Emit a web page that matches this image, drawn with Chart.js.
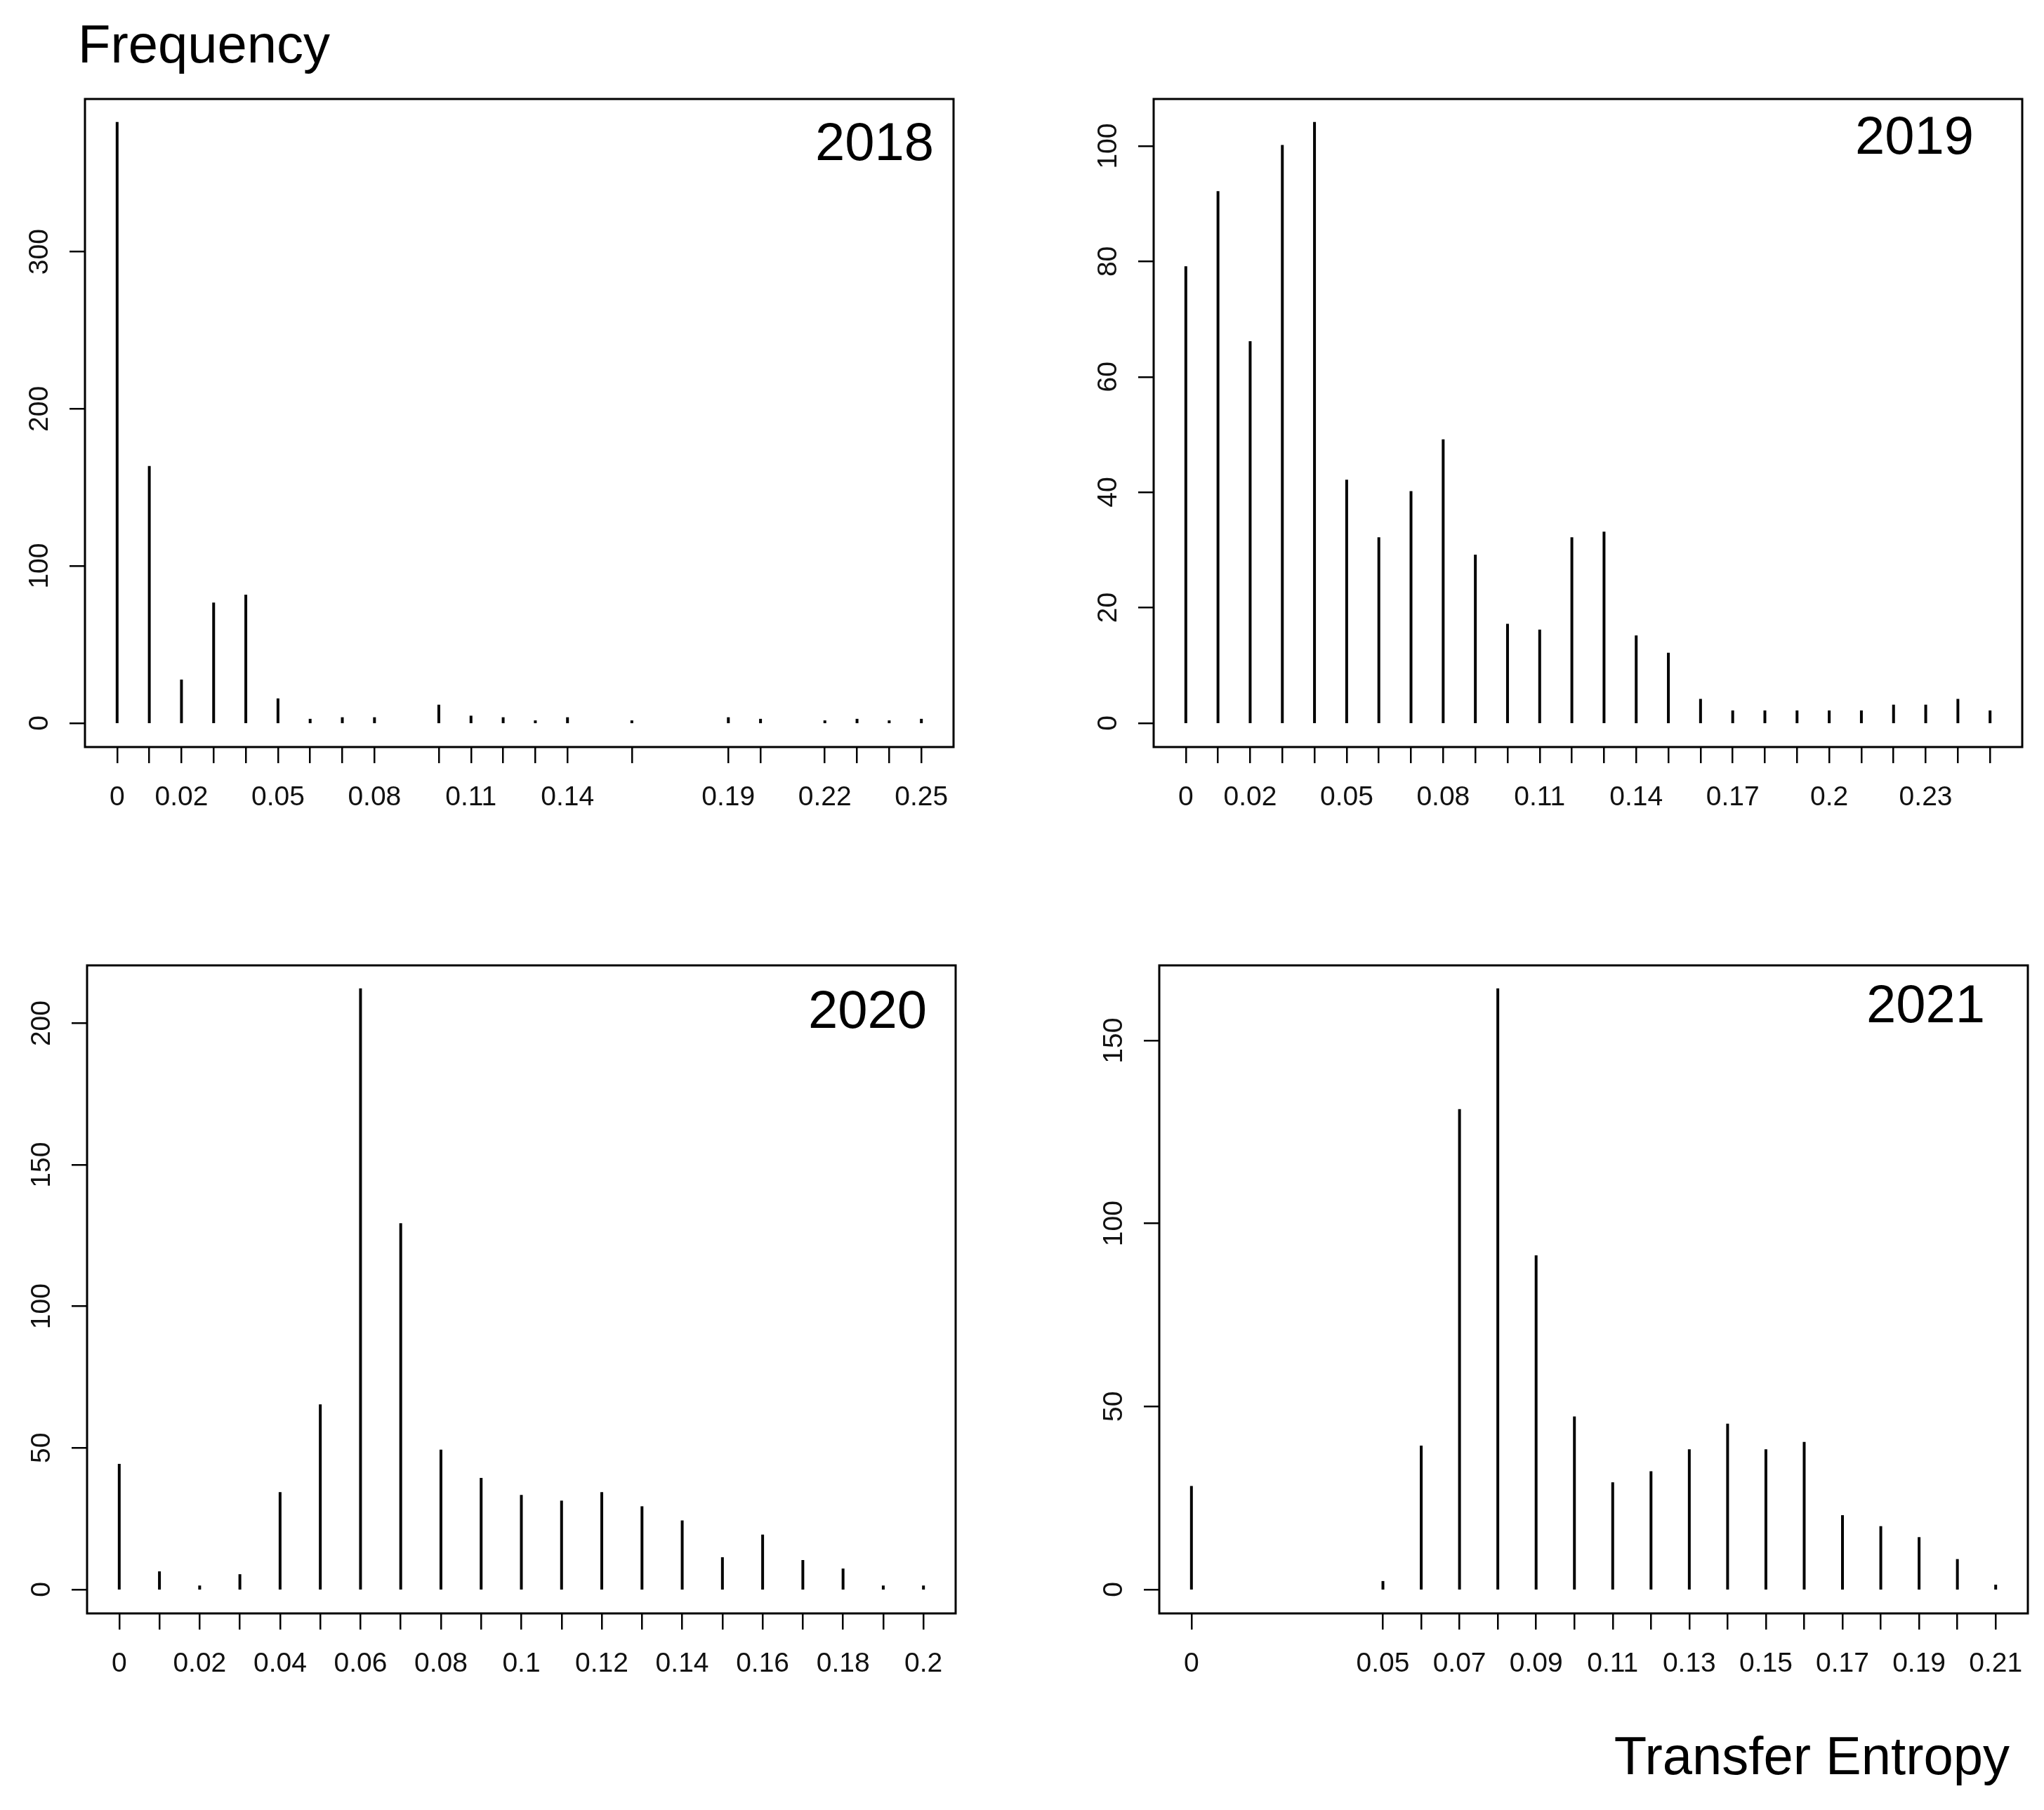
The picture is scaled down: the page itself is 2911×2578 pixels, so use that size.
<!DOCTYPE html>
<html>
<head>
<meta charset="utf-8">
<script src="https://cdn.jsdelivr.net/npm/chart.js@4.4.1/dist/chart.umd.min.js"></script>
<style>
  html, body { margin: 0; padding: 0; background: #fff; }
  #page { position: relative; width: 2911px; height: 2578px; background: #fff; overflow: hidden; }
  .panel { position: absolute; }
  .txt { position: absolute; font-family: "Liberation Sans", Arial, sans-serif; font-size: 76px; line-height: 76px; color: #000; white-space: nowrap; }
</style>
</head>
<body>
<div id="page">
  <div class="txt" style="left:111px; top:25px;">Frequency</div>
  <div class="txt" style="right:49px; top:2463px;">Transfer Entropy</div>
  <div class="panel" id="p2018"><canvas id="c2018"></canvas></div>
  <div class="panel" id="p2019"><canvas id="c2019"></canvas></div>
  <div class="panel" id="p2020"><canvas id="c2020"></canvas></div>
  <div class="panel" id="p2021"><canvas id="c2021"></canvas></div>
</div>
<script>
// --- datos: valores de transfer entropy (x) y frecuencias (n) por año ---
const x2018   = [0, 0.01, 0.02, 0.03, 0.04, 0.05, 0.06, 0.07, 0.08, 0.10, 0.11, 0.12, 0.13, 0.14, 0.16, 0.19, 0.20, 0.22, 0.23, 0.24, 0.25];
const n2018   = [382, 163, 27, 76, 81, 15, 2, 3, 3, 11, 4, 3, 1, 3, 1, 3, 2, 1, 2, 1, 2];
const lab2018 = ['0', '0.02', '0.05', '0.08', '0.11', '0.14', '0.19', '0.22', '0.25'];
const y2018   = [0, 100, 200, 300];

const x2019   = [0, 0.01, 0.02, 0.03, 0.04, 0.05, 0.06, 0.07, 0.08, 0.09, 0.10, 0.11, 0.12, 0.13, 0.14, 0.15, 0.16, 0.17, 0.18, 0.19, 0.20, 0.21, 0.22, 0.23, 0.24, 0.25];
const n2019   = [79, 92, 66, 100, 104, 42, 32, 40, 49, 29, 17, 16, 32, 33, 15, 12, 4, 2, 2, 2, 2, 2, 3, 3, 4, 2];
const lab2019 = ['0', '0.02', '0.05', '0.08', '0.11', '0.14', '0.17', '0.2', '0.23'];
const y2019   = [0, 20, 40, 60, 80, 100];

const x2020   = [0, 0.01, 0.02, 0.03, 0.04, 0.05, 0.06, 0.07, 0.08, 0.09, 0.10, 0.11, 0.12, 0.13, 0.14, 0.15, 0.16, 0.17, 0.18, 0.19, 0.20];
const n2020   = [44, 6, 1, 5, 34, 65, 212, 129, 49, 39, 33, 31, 34, 29, 24, 11, 19, 10, 7, 1, 1];
const lab2020 = ['0', '0.02', '0.04', '0.06', '0.08', '0.1', '0.12', '0.14', '0.16', '0.18', '0.2'];
const y2020   = [0, 50, 100, 150, 200];

const x2021   = [0, 0.05, 0.06, 0.07, 0.08, 0.09, 0.10, 0.11, 0.12, 0.13, 0.14, 0.15, 0.16, 0.17, 0.18, 0.19, 0.20, 0.21];
const n2021   = [28, 2, 39, 131, 164, 91, 47, 29, 32, 38, 45, 38, 40, 20, 17, 14, 8, 1];
const lab2021 = ['0', '0.05', '0.07', '0.09', '0.11', '0.13', '0.15', '0.17', '0.19', '0.21'];
const y2021   = [0, 50, 100, 150];

// --- layout de los cuatro paneles (caja del área de trazado) ---
const BOX_W  = 1237;
const BOX_H  = 923;
const AXIS_Y = 130;
const AXIS_X = 110;
const PAD    = 6;
const FONT   = '"Liberation Sans", Arial, sans-serif';

const paneles = [
  { anio: '2018', left: 121,  top: 141,  xs: x2018, ns: n2018, labs: lab2018, yt: y2018, dx: 28, dy: 66 },
  { anio: '2019', left: 1643, top: 141,  xs: x2019, ns: n2019, labs: lab2019, yt: y2019, dx: 69, dy: 57 },
  { anio: '2020', left: 124,  top: 1375, xs: x2020, ns: n2020, labs: lab2020, yt: y2020, dx: 41, dy: 68 },
  { anio: '2021', left: 1651, top: 1375, xs: x2021, ns: n2021, labs: lab2021, yt: y2021, dx: 61, dy: 60 }
];

const marcoPlugin = {
  id: 'marco',
  afterDraw(chart, args, opts) {
    const { ctx, chartArea: a } = chart;
    ctx.save();
    ctx.strokeStyle = '#000';
    ctx.lineWidth = 3;
    ctx.strokeRect(a.left, a.top, a.right - a.left, a.bottom - a.top);

    // etiquetas del eje y, giradas como en R
    const sy = chart.scales.y;
    ctx.fillStyle = '#111';
    ctx.font = '39px ' + FONT;
    ctx.textAlign = 'center';
    ctx.textBaseline = 'middle';
    sy.ticks.forEach(t => {
      const py = sy.getPixelForValue(t.value);
      ctx.save();
      ctx.translate(a.left - 64, py);
      ctx.rotate(-Math.PI / 2);
      ctx.fillText(String(t.value), 0, 0);
      ctx.restore();
    });

    // año arriba a la derecha
    ctx.fillStyle = '#000';
    ctx.font = '76px ' + FONT;
    ctx.textAlign = 'right';
    ctx.textBaseline = 'middle';
    ctx.fillText(opts.anio, a.right - opts.dx, a.top + opts.dy);
    ctx.restore();
  }
};

function crearPanel(p) {
  const div = document.getElementById('p' + p.anio);
  div.style.left   = (p.left - AXIS_Y) + 'px';
  div.style.top    = (p.top - PAD) + 'px';
  div.style.width  = (AXIS_Y + BOX_W + PAD) + 'px';
  div.style.height = (PAD + BOX_H + AXIS_X) + 'px';

  const xmin = p.xs[0], xmax = p.xs[p.xs.length - 1];
  const rx   = xmax - xmin;
  const ymax = Math.max(...p.ns);

  new Chart(document.getElementById('c' + p.anio), {
    type: 'bar',
    data: {
      datasets: [{
        data: p.xs.map((x, i) => ({ x: x, y: p.ns[i] })),
        backgroundColor: '#000',
        borderWidth: 0,
        barThickness: 1,
        inflateAmount: 1.5
      }]
    },
    options: {
      responsive: true,
      maintainAspectRatio: false,
      animation: false,
      devicePixelRatio: 1,
      layout: { padding: { top: PAD, right: PAD, left: 0, bottom: 0 } },
      plugins: {
        legend: { display: false },
        tooltip: { enabled: false },
        marco: { anio: p.anio, dx: p.dx, dy: p.dy }
      },
      scales: {
        x: {
          type: 'linear',
          offset: false,
          min: xmin - 0.04 * rx,
          max: xmax + 0.04 * rx,
          afterBuildTicks: s => { s.ticks = p.xs.map(v => ({ value: v })); },
          afterFit: s => { s.height = AXIS_X; s.paddingLeft = 0; s.paddingRight = 0; },
          grid: { offset: false, drawOnChartArea: false, drawTicks: true, tickLength: 23, color: '#000', lineWidth: 2.5 },
          border: { display: false },
          ticks: {
            autoSkip: false,
            maxRotation: 0,
            minRotation: 0,
            padding: 26,
            color: '#111',
            font: { family: FONT, size: 39 },
            callback: v => {
              const l = p.labs.find(s => Math.abs(parseFloat(s) - v) < 1e-9);
              return l === undefined ? '' : l;
            }
          }
        },
        y: {
          min: -0.04 * ymax,
          max: 1.04 * ymax,
          afterBuildTicks: s => { s.ticks = p.yt.map(v => ({ value: v })); },
          afterFit: s => { s.width = AXIS_Y; s.paddingTop = 0; s.paddingBottom = 0; },
          grid: { drawOnChartArea: false, drawTicks: true, tickLength: 22, color: '#000', lineWidth: 2.5 },
          border: { display: false },
          ticks: { display: false }
        }
      }
    },
    plugins: [marcoPlugin]
  });
}

paneles.forEach(crearPanel);
</script>
</body>
</html>
